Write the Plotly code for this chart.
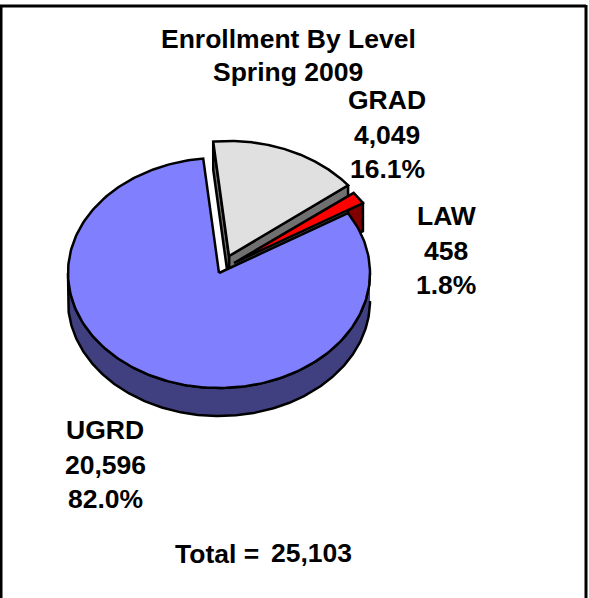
import numpy as np
import plotly.graph_objects as go

# ---- data ----
categories = ["GRAD", "LAW", "UGRD"]
values = [4049, 458, 20596]
value_labels = ["4,049", "458", "20,596"]
percent_labels = ["16.1%", "1.8%", "82.0%"]
top_colors = ["#E0E0E0", "#FF0000", "#8080FF"]
wall_colors = ["#707070", "#800000", "#404080"]
title_lines = ["Enrollment By Level", "Spring 2009"]
total_label = "Total = "
total_value = "25,103"

# ---- pseudo-3D projection of the pie (style / layout settings) ----
W, H = 589, 598
RX, RY, DEPTH = 151, 115, 28
START_DEG = -6.0
APEX = {"GRAD": (229, 256), "LAW": (234, 263), "UGRD": (219, 273)}
LABEL_POS = {"GRAD": (387, 100), "LAW": (446, 216), "UGRD": (105, 430)}
FONT = "Liberation Sans, Arial, sans-serif"
EDGE = dict(color="black", width=2.5)
TEXT_SIZE = 26.5

total = sum(values)
sweeps = [v / total * 360 for v in values]
starts = START_DEG + np.concatenate([[0], np.cumsum(sweeps)[:-1]])


def rim(cx, cy, deg):
    t = np.radians(deg)
    return cx + RX * np.sin(t), cy - RY * np.cos(t)


fig = go.Figure()


def poly(xs, ys, color):
    fig.add_trace(go.Scatter(x=list(xs), y=list(ys), mode="lines", fill="toself",
                             fillcolor=color, line=EDGE, hoverinfo="skip",
                             showlegend=False))


slices = {c: (s, s + d, tc, wc) for c, s, d, tc, wc in
          zip(categories, starts, sweeps, top_colors, wall_colors)}


def cut_wall(name, deg):
    ax, ay = APEX[name]
    rx, ry = rim(ax, ay, deg)
    poly([ax, rx, rx, ax, ax], [ay, ry, ry + DEPTH, ay + DEPTH, ay], slices[name][3])


def top(name):
    ax, ay = APEX[name]
    a0, a1 = slices[name][:2]
    ts = np.linspace(a0, a1, 240)
    xs, ys = rim(ax, ay, ts)
    poly(np.r_[ax, xs, ax], np.r_[ay, ys, ay], slices[name][2])


# back-to-front painting
cut_wall("LAW", slices["LAW"][1])
cut_wall("GRAD", slices["GRAD"][1])
cut_wall("GRAD", slices["GRAD"][0])
top("GRAD")
top("LAW")

ax, ay = APEX["UGRD"]
ts = np.linspace(90, 270, 240)
xs, ys = rim(ax, ay, ts)
poly(np.r_[xs, xs[::-1]], np.r_[ys, ys[::-1] + DEPTH], slices["UGRD"][3])
top("UGRD")

annotations = []


def text(x, y, s, size=TEXT_SIZE):
    annotations.append(dict(x=x, y=y, xref="x", yref="y", text=f"<b>{s}</b>", showarrow=False,
                            xanchor="center", yanchor="middle",
                            font=dict(family=FONT, size=size, color="black")))


text(288, 39, title_lines[0])
text(288, 72, title_lines[1])
for c, v, p in zip(categories, value_labels, percent_labels):
    lx, ly = LABEL_POS[c]
    for i, s in enumerate([c, v, p]):
        text(lx, ly + i * 34.5, s)
text(216.5, 554, total_label.strip())
text(311, 553, total_value)

shapes = [
    dict(type="line", x0=1, x1=1, y0=5, y1=H, line=dict(color="black", width=3)),
    dict(type="line", x0=0, x1=586, y0=6, y1=6, line=dict(color="black", width=3)),
    dict(type="line", x0=586, x1=586, y0=5, y1=H, line=dict(color="black", width=3)),
]

fig.update_layout(
    width=W, height=H, margin=dict(l=0, r=0, t=0, b=0),
    paper_bgcolor="white", plot_bgcolor="white", showlegend=False,
    xaxis=dict(range=[0, W], visible=False, fixedrange=True),
    yaxis=dict(range=[H, 0], visible=False, fixedrange=True),
    annotations=annotations, shapes=shapes,
)
fig.write_html("out.html", config={"displayModeBar": False},
               post_script="document.body.style.margin='0';document.body.style.overflow='hidden';")
